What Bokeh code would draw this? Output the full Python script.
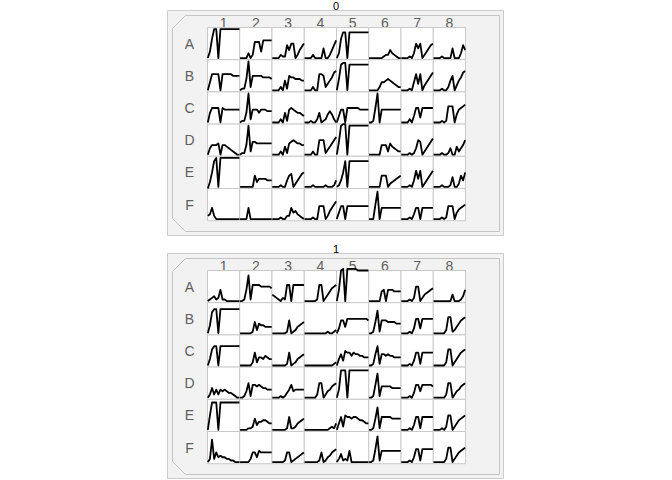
from bokeh.plotting import figure
from bokeh.models import Range1d, ColumnDataSource
from bokeh.layouts import column
from bokeh.embed import file_html
from bokeh.resources import INLINE
from bokeh.core.properties import value

row_labels = ["A", "B", "C", "D", "E", "F"]
col_labels = ["1", "2", "3", "4", "5", "6", "7", "8"]
plate_titles = ["0", "1"]
VMAX = 20  # signal units that fill one well's height

# ---- plate "0": 16 samples per well, one list per row ----
p0_A = [[1,5,13,19,19,1,19,19,19,19,19,19,19,19,19,19],
        [1,1,1,1,4,1,3,11,11,11,5,12,12,12,12,12],
        [1,1,1,1,3,2,2,9,6,10,10,1,3,6,8,10],
        [1,1,1,1,3,1,1,1,1,7,1,1,3,6,9,12],
        [1,4,13,17,17,1,17,17,17,17,17,17,17,17,17,17],
        [1,1,1,1,1,1,1,2,3,3,6,4,3,2,1,1],
        [1,1,1,1,2,1,4,10,7,10,1,3,5,7,9,10],
        [1,1,1,1,2,1,1,1,1,7,1,1,1,4,9,6]]
p0_B = [[1,6,11,11,11,11,1,11,11,11,11,11,10,10,10,10],
        [1,2,2,8,19,3,10,10,10,10,10,9,9,9,9,8],
        [1,1,1,1,3,1,7,2,10,9,9,8,8,8,7,7],
        [1,1,1,1,3,1,1,11,11,10,3,5,7,9,12,13],
        [1,8,17,18,18,1,17,17,17,17,17,17,17,17,17,17],
        [1,1,1,1,1,3,6,6,7,8,7,6,5,4,3,3],
        [1,1,1,1,2,1,6,11,5,11,1,4,6,8,10,12],
        [1,1,1,1,2,1,1,3,7,10,1,4,7,9,12,13]]
p0_C = [[1,7,10,10,10,10,1,10,9,9,9,9,9,9,9,9],
        [1,2,2,7,19,3,9,9,9,7,9,9,9,8,8,8],
        [1,1,1,1,3,1,7,2,9,10,9,8,7,7,6,5],
        [1,1,1,2,1,1,3,7,1,2,3,6,8,6,3,1],
        [1,5,9,9,1,10,10,10,10,10,10,9,9,9,9,9],
        [1,1,2,10,19,1,9,9,9,9,9,9,9,9,9,9],
        [1,1,1,1,3,1,5,10,10,4,10,10,10,10,10,10],
        [1,1,1,1,2,1,2,11,11,11,1,6,9,10,11,12]]
p0_D = [[1,5,7,7,7,8,1,7,7,6,5,4,3,2,1,1],
        [1,2,2,7,19,3,9,9,8,8,8,8,8,8,8,8],
        [1,1,1,1,3,1,6,2,8,9,10,9,8,8,7,7],
        [1,1,1,1,3,1,1,10,10,10,2,4,6,8,10,12],
        [1,9,19,20,20,1,19,19,19,19,19,19,19,19,19,19],
        [1,1,1,1,1,1,7,7,7,3,8,6,5,4,3,3],
        [1,1,1,1,2,1,2,5,10,9,1,3,5,7,9,11],
        [1,1,1,1,2,1,1,2,5,1,1,6,3,5,7,10]]
p0_E = [[0,4,10,17,19,1,19,19,19,19,19,19,19,19,19,19],
        [1,1,1,1,1,1,1,8,4,6,6,6,6,5,5,5],
        [1,1,1,1,2,1,1,5,8,9,1,3,5,7,9,10],
        [1,1,1,1,2,1,1,1,1,1,2,1,1,1,2,5],
        [1,2,5,10,17,1,17,17,17,17,17,17,17,17,17,17],
        [1,1,1,1,1,1,8,8,8,1,3,4,5,6,7,8],
        [1,1,1,1,2,1,5,11,6,11,1,3,5,7,9,11],
        [1,1,1,1,2,1,1,1,2,7,1,1,3,8,5,10]]
p0_F = [[3,4,8,3,1,1,1,1,1,1,1,1,1,1,1,1],
        [1,1,1,1,8,1,1,1,1,1,1,1,1,1,1,1],
        [1,1,1,1,2,1,1,3,3,8,5,6,4,3,2,1],
        [1,1,1,1,2,1,1,9,9,9,1,3,6,8,10,12],
        [1,5,9,9,1,9,9,9,9,9,9,9,9,9,9,9],
        [1,1,1,10,18,1,8,8,8,8,8,8,8,8,8,8],
        [1,1,1,1,2,1,4,8,8,1,8,8,8,8,8,8],
        [1,1,1,1,2,1,2,9,9,9,1,5,7,8,9,10]]

# ---- plate "1" ----
p1_A = [[1,2,3,4,2,3,8,2,2,1,1,1,1,1,1,1],
        [1,1,2,8,17,2,11,11,11,11,10,10,10,10,10,9],
        [5,4,3,2,1,3,2,11,11,1,11,11,11,11,11,11],
        [1,1,1,1,1,1,2,11,11,1,3,5,7,9,10,11],
        [1,8,20,21,1,21,21,21,21,21,20,20,20,20,20,20],
        [1,1,1,1,1,1,7,8,1,8,8,8,7,7,7,7],
        [1,1,1,1,2,1,3,10,10,1,3,5,6,7,8,9],
        [1,1,1,1,1,1,1,1,1,5,1,1,1,2,4,8]]
p1_B = [[1,6,14,16,16,1,16,16,16,16,16,16,16,16,16,16],
        [1,1,1,1,1,1,2,8,3,7,6,6,5,5,5,5],
        [1,1,1,1,1,1,1,2,9,1,2,3,5,6,7,8],
        [1,1,1,1,1,1,1,1,1,1,1,2,1,1,2,3],
        [1,4,9,9,5,10,10,10,10,10,10,10,10,10,10,9],
        [1,1,2,8,15,2,9,9,9,8,8,8,8,7,7,7],
        [1,1,1,1,2,1,4,10,10,4,10,10,10,10,10,10],
        [1,1,1,1,1,1,3,11,11,2,3,5,7,9,10,11]]
p1_C = [[1,5,11,13,13,1,13,13,13,13,13,13,13,13,13,13],
        [1,1,1,1,1,1,3,9,3,6,6,5,7,6,5,5],
        [1,1,1,1,1,1,1,2,9,1,2,3,5,6,7,8],
        [1,1,1,1,1,1,1,1,1,1,1,1,1,1,2,3],
        [1,5,8,4,10,9,9,7,9,8,8,7,7,6,6,6],
        [1,1,2,8,13,2,8,8,7,8,7,7,6,6,6,6],
        [1,1,1,1,2,1,4,9,9,2,9,9,9,9,9,9],
        [1,1,1,1,1,1,3,11,11,1,3,5,7,9,10,11]]
p1_D = [[1,3,7,3,6,3,6,5,6,5,4,4,3,2,1,1],
        [1,1,2,5,10,2,9,9,8,9,8,7,7,6,6,6],
        [1,1,1,1,2,1,2,4,6,9,5,6,6,6,6,6],
        [1,1,1,1,1,1,3,10,10,1,3,5,6,8,9,10],
        [1,6,18,18,18,1,18,18,18,18,18,18,18,18,18,18],
        [1,1,2,9,16,2,8,8,8,8,8,7,7,7,7,7],
        [1,1,1,1,2,1,4,9,9,5,9,9,9,9,9,8],
        [1,1,1,1,1,1,3,10,10,1,3,5,6,8,9,10]]
p1_E = [[1,10,18,18,18,1,18,18,18,18,18,18,18,18,18,18],
        [1,1,1,1,2,2,3,8,4,6,6,7,7,6,5,5],
        [1,1,1,1,1,1,1,2,9,2,2,3,5,6,7,8],
        [1,1,1,1,1,1,1,1,1,1,1,1,2,3,2,5],
        [1,5,9,3,10,9,9,8,9,9,8,7,7,6,5,5],
        [1,1,2,8,15,2,9,9,9,9,9,8,8,8,8,8],
        [1,1,1,1,2,1,4,9,9,2,9,9,9,9,9,9],
        [1,1,1,1,2,1,3,10,10,1,3,5,7,8,9,10]]
p1_F = [[1,3,15,3,7,4,5,4,4,3,3,2,2,1,1,1],
        [1,1,1,1,1,3,7,7,4,8,7,7,7,7,7,7],
        [1,1,1,1,1,1,2,7,7,1,2,3,4,5,6,7],
        [1,1,1,1,1,1,1,2,7,1,2,4,5,7,8,9],
        [1,3,6,2,3,2,8,1,1,1,1,1,1,1,1,1],
        [1,1,2,9,17,2,8,8,8,8,8,8,8,8,8,8],
        [1,1,1,1,2,1,4,9,9,2,9,9,9,9,9,9],
        [1,1,1,1,1,1,3,10,10,1,3,5,7,8,9,10]]

plates = [[p0_A, p0_B, p0_C, p0_D, p0_E, p0_F],
          [p1_A, p1_B, p1_C, p1_D, p1_E, p1_F]]

# ---- layout (pixels inside each panel figure) ----
W = 672
HEIGHTS = [243, 237]
CW, CH = 32.25, 32.2       # well size in px
GX0, GY0 = 207.0, 27.0     # top-left of the well grid
FONT = "Liberation Sans"
LABEL_COLOR = "#5e5e5e"


def ux(px):
    return (px - GX0) / CW + 0.5


def uy(py):
    return (py - GY0) / CH + 0.5


def make_plate(k, height):
    p = figure(width=W, height=height, output_backend="svg", toolbar_location=None,
               x_range=Range1d(ux(0), ux(W)), y_range=Range1d(uy(height), uy(0)),
               min_border=0, min_border_left=0, min_border_right=0,
               min_border_top=0, min_border_bottom=0)
    p.axis.visible = False
    p.grid.visible = False
    p.outline_line_color = None
    p.background_fill_color = "white"
    p.border_fill_color = "white"

    # plate body
    p.quad(left=ux(167), right=ux(503), top=uy(10), bottom=uy(235),
           fill_color="#f2f2f2", line_color="#cbcbcb", line_width=1)
    p.patch(x=[ux(172), ux(185), ux(499), ux(499), ux(185), ux(172)],
            y=[uy(28), uy(15), uy(15), uy(231), uy(231), uy(218)],
            fill_color="#f2f2f2", line_color="#c4c4c4", line_width=1)

    # title
    p.text(x=[ux(335.5)], y=[uy(5.5)], text=[plate_titles[k]], text_align="center",
           text_baseline="middle", text_font=value(FONT), text_font_size="11px",
           text_color="black")
    # column labels (their feet tuck under the wells)
    p.text(x=[c + 1 for c in range(len(col_labels))], y=[uy(22.5)] * len(col_labels),
           text=col_labels, text_align="center", text_baseline="middle",
           text_font=value(FONT), text_font_size="14px", text_color=LABEL_COLOR)
    # row labels
    p.text(x=[ux(189)] * len(row_labels), y=[r + 1 for r in range(len(row_labels))],
           text=row_labels, text_align="center", text_baseline="middle",
           text_font=value(FONT), text_font_size="14px", text_color=LABEL_COLOR)

    # wells
    cx, cy = [], []
    for r in range(len(row_labels)):
        for c in range(len(col_labels)):
            cx.append(c + 1)
            cy.append(r + 1)
    p.rect(x=cx, y=cy, width=1, height=1, fill_color="white",
           line_color="#c9c9c9", line_width=1)

    # traces
    xs, ys = [], []
    for r, row in enumerate(plates[k]):
        for c, series in enumerate(row):
            n = len(series)
            xs.append([c + 0.5 + 0.01 + 0.98 * i / (n - 1) for i in range(n)])
            ys.append([r + 1.5 - v / VMAX for v in series])
    src = ColumnDataSource(dict(xs=xs, ys=ys))
    p.multi_line(xs="xs", ys="ys", source=src, line_color="black", line_width=1.8,
                 line_join="round")
    return p


figs = [make_plate(k, h) for k, h in enumerate(HEIGHTS)]
layout = column(*figs, spacing=0)
open("out.html", "w").write(file_html(layout, INLINE))
